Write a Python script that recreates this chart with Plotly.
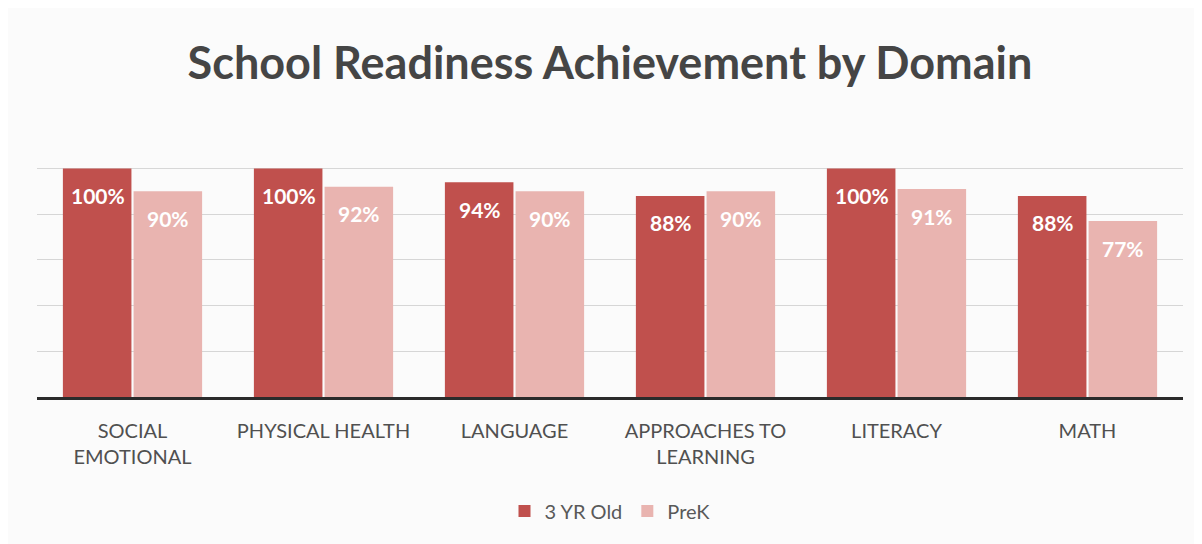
import plotly.graph_objects as go

categories = ["SOCIAL<br>EMOTIONAL", "PHYSICAL HEALTH", "LANGUAGE",
              "APPROACHES TO<br>LEARNING", "LITERACY", "MATH"]
three_yr = [1.00, 1.00, 0.94, 0.88, 1.00, 0.88]
prek = [0.90, 0.92, 0.90, 0.90, 0.91, 0.77]
series_names = ["3 YR Old", "PreK"]
colors = ["#c0504d", "#e9b4b0"]

FONT = "Lato"
W, H = 1194, 536  # page body has an 8px margin

fig = go.Figure()
for name, vals, col in zip(series_names, [three_yr, prek], colors):
    fig.add_trace(go.Bar(x=categories, y=vals, name=name, marker_color=col,
                         marker_line_width=0, textposition="none"))

annotations = []
for shift, vals in zip([-35, 35], [three_yr, prek]):
    for c, v in zip(categories, vals):
        annotations.append(dict(x=c, y=v, xref="x", yref="y", xshift=shift, yshift=-27,
                                text=f"<b>{round(v*100)}%</b>", showarrow=False,
                                yanchor="middle", xanchor="center",
                                font=dict(family=FONT, size=21, color="white")))

fig.update_layout(
    width=W, height=H,
    margin=dict(l=29, r=19, t=160, b=147),
    paper_bgcolor="#fbfbfb", plot_bgcolor="#fbfbfb",
    title=dict(text="<b>School Readiness Achievement by Domain</b>", x=602 / W, xanchor="center",
               y=1 - 55 / H, yref="container", yanchor="middle",
               font=dict(family=FONT, size=45, color="#454545")),
    barmode="group", bargap=0.26, bargroupgap=0.03,
    showlegend=True,
    legend=dict(orientation="h", x=0.5, xanchor="center", y=(397 - 511) / 229, yanchor="middle",
                font=dict(family=FONT, size=20, color="#595959"), itemwidth=30,
                traceorder="normal"),
    annotations=annotations,
    shapes=[dict(type="line", xref="paper", yref="y", x0=0, x1=1, y0=1, y1=1,
                 line=dict(color="#d6d6d6", width=1), layer="below")],
)
fig.update_xaxes(showline=True, linecolor="#2b2b2b", linewidth=3, ticks="",
                 ticklabelstandoff=14,
                 tickfont=dict(family=FONT, size=20, color="#505050"))
fig.update_yaxes(range=[0, 1.002], dtick=0.2, showticklabels=False, showgrid=True,
                 gridcolor="#d6d6d6", gridwidth=1, zeroline=False)

fig.write_html("out.html")
